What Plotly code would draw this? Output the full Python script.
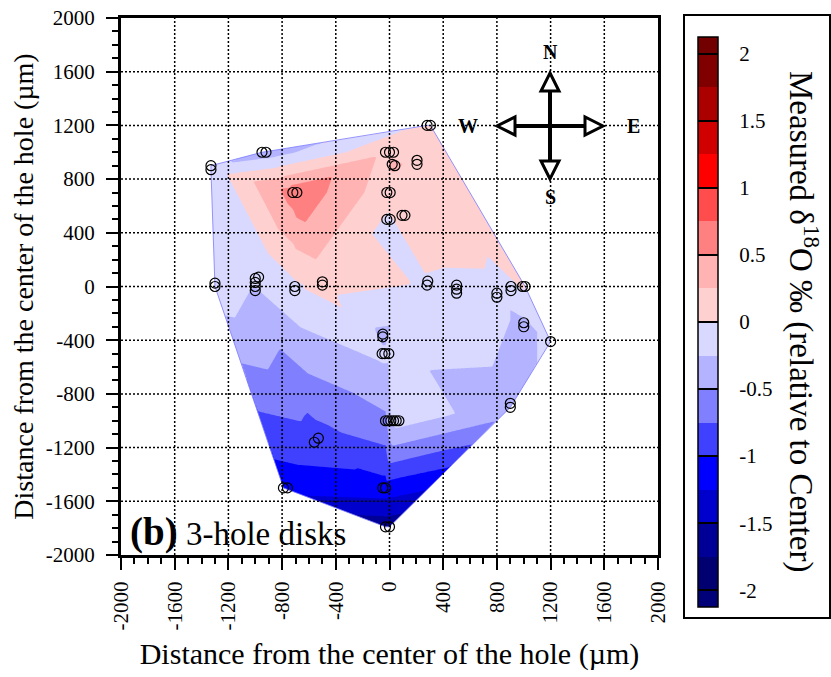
import numpy as np
import plotly.graph_objects as go

# ---- sample spots: position (um) and measured d18O (permil, relative to center)
x_um = [-1330, -1330, -950, -920, -30, 0, 30, 20, 40, 205, 205, 280, 305,
        -720, -690, -20, 5, -20, 5, 93, 115,
        -1300, -1300, -1000, -975, -1000, -1000, -1000, -705, -705, -500, -500,
        285, 280, 500, 500, 500, 800, 800, 905, 905, 990, 1010,
        1000, 1000, 1200, -50, -50, -55, -35, -5,
        -30, -10, 10, 30, 50, 70, 900, 900,
        -560, -530, -790, -760, -50, -30, -30, 0]
y_um = [900, 870, 1000, 1000, 1000, 1000, 1000, 910, 900, 940, 910, 1200, 1200,
        700, 700, 700, 700, 500, 500, 530, 530,
        25, 0, 60, 70, 30, 0, -30, 0, -30, 35, 10,
        40, 10, 10, -20, -50, -50, -80, 0, -30, 0, 0,
        -270, -300, -410, -355, -375, -500, -500, -500,
        -1000, -1000, -1000, -1000, -1000, -1000, -870, -900,
        -1160, -1130, -1500, -1500, -1500, -1500, -1790, -1790]
d18o = [-0.15, -0.15, -0.4, -0.4, 0.2, 0.2, 0.2, 0.3, 0.3, 0.15, 0.15, 0.05, 0.0,
        0.62, 0.7, 0.1, 0.1, -0.03, -0.03, 0.15, 0.15,
        -0.1, -0.1, -0.24, -0.24, -0.24, -0.25, -0.27, -0.05, -0.05, 0.1, 0.1,
        -0.02, -0.02, -0.05, -0.05, -0.05, -0.2, -0.2, -0.05, -0.05, 0.02, 0.02,
        -0.3, -0.3, -0.2, -0.3, -0.3, -0.2, -0.2, -0.2,
        -0.55, -0.4, -0.25, -0.2, -0.15, -0.15, -0.35, -0.35,
        -0.85, -0.85, -1.15, -1.15, -1.1, -1.1, -1.65, -1.65]

axis_ticks = list(range(-2000, 2001, 400))
axis_tick_labels = ["-2000", "-1600", "-1200", "-800", "-400", "0",
                    "400", "800", "1200", "1600", "2000"]
cbar_ticks = [-2, -1.5, -1, -0.5, 0, 0.5, 1, 1.5, 2]
cbar_tick_labels = ["-2", "-1.5", "-1", "-0.5", "0", "0.5", "1", "1.5", "2"]
# colour of each band, from below -2 up to above 2 (0.25 wide bands)
band_colors = ["rgb(0,0,120)", "rgb(0,0,112)", "rgb(0,0,150)", "rgb(0,0,205)",
               "rgb(0,0,255)", "rgb(64,64,255)", "rgb(128,128,255)", "rgb(179,179,255)",
               "rgb(217,217,255)", "rgb(255,208,208)", "rgb(255,179,179)", "rgb(255,128,128)",
               "rgb(255,77,77)", "rgb(255,0,0)", "rgb(208,0,0)", "rgb(170,0,0)",
               "rgb(128,0,0)", "rgb(115,0,0)"]

FONT = "Liberation Serif, Times New Roman, serif"
W, H = 831, 677
ML, MR, MT, MB = 121, 173, 18, 122
PW, PH = W - ML - MR, H - MT - MB


def px(xp):
    return (xp - ML) / PW


def py(yp):
    return (H - MB - yp) / PH


# ---------- gridding of the scattered spots (linear on a Delaunay triangulation)
P = {}
for xv, yv, zv in zip(x_um, y_um, d18o):
    P.setdefault((float(xv), float(yv)), []).append(zv)
pts = list(P.keys())
vals = [float(np.mean(P[k])) for k in pts]
n = len(pts)
S = 1e5
verts = pts + [(-S, -S), (S, -S), (0.0, S)]


def circum(t):
    (ax, ay), (bx, by), (cx, cy) = verts[t[0]], verts[t[1]], verts[t[2]]
    d = 2 * (ax * (by - cy) + bx * (cy - ay) + cx * (ay - by))
    a2, b2, c2 = ax * ax + ay * ay, bx * bx + by * by, cx * cx + cy * cy
    ux = (a2 * (by - cy) + b2 * (cy - ay) + c2 * (ay - by)) / d
    uy = (a2 * (cx - bx) + b2 * (ax - cx) + c2 * (bx - ax)) / d
    return ux, uy, (ax - ux) ** 2 + (ay - uy) ** 2


tris = {(n, n + 1, n + 2): circum((n, n + 1, n + 2))}
for i in range(n):
    qx, qy = verts[i]
    bad = [t for t, (ux, uy, r2) in tris.items()
           if (qx - ux) ** 2 + (qy - uy) ** 2 < r2 * (1 - 1e-12)]
    cnt = {}
    for t in bad:
        for e in ((t[0], t[1]), (t[1], t[2]), (t[2], t[0])):
            k = tuple(sorted(e))
            cnt[k] = cnt.get(k, 0) + 1
        del tris[t]
    for (a, b), c in cnt.items():
        if c == 1:
            t = (a, b, i)
            tris[t] = circum(t)
triangles = [t for t in tris if max(t) < n]

gx = np.arange(min(x_um) - 10, max(x_um) + 11, 10.0)
gy = np.arange(min(y_um) - 10, max(y_um) + 11, 10.0)
GX, GY = np.meshgrid(gx, gy)
Z = np.full(GX.shape, np.nan)
pa = np.array(pts)
va = np.array(vals)
for a, b, c in triangles:
    (x1, y1), (x2, y2), (x3, y3) = pa[a], pa[b], pa[c]
    det = (y2 - y3) * (x1 - x3) + (x3 - x2) * (y1 - y3)
    if abs(det) < 1e-9:
        continue
    l1 = ((y2 - y3) * (GX - x3) + (x3 - x2) * (GY - y3)) / det
    l2 = ((y3 - y1) * (GX - x3) + (x1 - x3) * (GY - y3)) / det
    l3 = 1 - l1 - l2
    m = (l1 >= -1e-9) & (l2 >= -1e-9) & (l3 >= -1e-9) & np.isnan(Z)
    Z[m] = (l1 * va[a] + l2 * va[b] + l3 * va[c])[m]
miss = np.isnan(Z)
if miss.any():
    d2 = (GX[miss][:, None] - pa[:, 0]) ** 2 + (GY[miss][:, None] - pa[:, 1]) ** 2
    Z[miss] = va[np.argmin(d2, axis=1)]

# convex hull of the sample spots (monotone chain)
spts = sorted(pts)


def cross(o, a, b):
    return (a[0] - o[0]) * (b[1] - o[1]) - (a[1] - o[1]) * (b[0] - o[0])


lower, upper = [], []
for p in spts:
    while len(lower) >= 2 and cross(lower[-2], lower[-1], p) <= 0:
        lower.pop()
    lower.append(p)
for p in reversed(spts):
    while len(upper) >= 2 and cross(upper[-2], upper[-1], p) <= 0:
        upper.pop()
    upper.append(p)
hull = lower[:-1] + upper[:-1]  # counter-clockwise

nb = len(band_colors)
colorscale = [[i / (nb - 1), c] for i, c in enumerate(band_colors)]

fig = go.Figure()
fig.add_trace(go.Contour(
    x=gx, y=gy, z=Z,
    autocontour=False,
    contours=dict(start=-2, end=2, size=0.25, coloring="fill", showlines=False),
    colorscale=colorscale,
    line=dict(width=0),
    colorbar=dict(
        x=px(698), xanchor="left", xpad=0,
        y=py(322), yanchor="middle", ypad=0,
        len=570, lenmode="pixels", thickness=20,
        outlinewidth=1.5, outlinecolor="black",
        tickmode="array", tickvals=cbar_ticks,
        ticktext=["\u00a0\u00a0\u00a0" + s for s in cbar_tick_labels],
        ticks="inside", ticklen=20, tickwidth=2, tickcolor="black",
        tickfont=dict(family=FONT, size=21, color="black"),
    ),
    hoverinfo="skip",
))

# white mask outside the convex hull (outer box, then hull clockwise)
R = 3000
hull_cw = list(reversed(hull))
mx = [-R, R, R, -R, -R] + [p[0] for p in hull_cw] + [hull_cw[0][0], -R]
my = [-R, -R, R, R, -R] + [p[1] for p in hull_cw] + [hull_cw[0][1], -R]
fig.add_trace(go.Scatter(x=mx, y=my, mode="lines", fill="toself",
                         fillcolor="white", line=dict(width=0),
                         hoverinfo="skip", showlegend=False))
# thin hull outline
fig.add_trace(go.Scatter(x=[p[0] for p in hull] + [hull[0][0]],
                         y=[p[1] for p in hull] + [hull[0][1]],
                         mode="lines", line=dict(color="rgb(120,120,255)", width=0.8),
                         hoverinfo="skip", showlegend=False))
# sample spots
fig.add_trace(go.Scatter(x=x_um, y=y_um, mode="markers",
                         marker=dict(symbol="circle-open", size=10,
                                     color="black", line=dict(width=1.2)),
                         hoverinfo="skip", showlegend=False))

axis_common = dict(
    range=[-2000, 2000], tickmode="array", tickvals=axis_ticks,
    ticktext=axis_tick_labels, ticks="outside", ticklen=12, tickwidth=2,
    tickcolor="black", showline=True, linewidth=3, linecolor="black",
    mirror=True, showgrid=False, zeroline=False, layer="above traces",
    tickfont=dict(family=FONT, size=21, color="black"),
    minor=dict(dtick=100, ticks="outside", ticklen=6, tickwidth=1.5,
               tickcolor="black", showgrid=False),
)
fig.update_xaxes(**axis_common, tickangle=-90, ticklabelstandoff=3,
                 title=dict(text="Distance from the center of the hole (\u00b5m)",
                            font=dict(family=FONT, size=30, color="black"),
                            standoff=14))
fig.update_yaxes(**axis_common, ticklabelstandoff=7,
                 title=dict(text="Distance from the center of the hole (\u00b5m)",
                            font=dict(family=FONT, size=28, color="black"),
                            standoff=4))

shapes = []
# dotted grid drawn above the filled contours
for v in axis_ticks[1:-1]:
    shapes.append(dict(type="line", xref="x", yref="paper", x0=v, x1=v, y0=0, y1=1,
                       layer="above", line=dict(color="black", width=1.5, dash="2px,2px")))
    shapes.append(dict(type="line", xref="paper", yref="y", x0=0, x1=1, y0=v, y1=v,
                       layer="above", line=dict(color="black", width=1.5, dash="2px,2px")))
# frame around the colour bar
shapes.append(dict(type="rect", xref="paper", yref="paper",
                   x0=px(684), x1=px(830), y0=py(618), y1=py(15),
                   line=dict(color="black", width=2), fillcolor="rgba(0,0,0,0)"))
# compass rose
cx, cy = 550, 126
arm, head, hw = 53, 18, 9
for dx, dy in [(0, -1), (0, 1), (-1, 0), (1, 0)]:
    bx, by = cx + dx * (arm - head), cy + dy * (arm - head)
    shapes.append(dict(type="line", xref="paper", yref="paper",
                       x0=px(cx), y0=py(cy), x1=px(bx), y1=py(by),
                       line=dict(color="black", width=4)))
    tx, ty = cx + dx * arm, cy + dy * arm
    ax_, ay_ = bx - dy * hw, by - dx * hw
    bx_, by_ = bx + dy * hw, by + dx * hw
    path = (f"M {px(tx)} {py(ty)} L {px(ax_)} {py(ay_)} "
            f"L {px(bx_)} {py(by_)} Z")
    shapes.append(dict(type="path", xref="paper", yref="paper", path=path,
                       line=dict(color="black", width=3), fillcolor="white"))

annotations = []
for lab, lx, ly in [("N", 550, 52), ("S", 550, 197), ("W", 468, 126), ("E", 633, 126)]:
    annotations.append(dict(text=f"<b>{lab}</b>", xref="paper", yref="paper",
                            x=px(lx), y=py(ly), xanchor="center", yanchor="middle",
                            showarrow=False,
                            font=dict(family=FONT, size=20, color="black")))
annotations.append(dict(
    text="<span style='font-size:39px'><b>(b)</b></span> 3-hole disks",
    xref="paper", yref="paper", x=px(128), y=py(532), xanchor="left",
    yanchor="middle", showarrow=False,
    font=dict(family=FONT, size=33, color="black")))
annotations.append(dict(
    text="Measured \u03b4<sup>18</sup>O \u2030 (relative to Center)",
    xref="paper", yref="paper", x=px(804), y=py(321), textangle=90,
    xanchor="center", yanchor="middle",
    showarrow=False, font=dict(family=FONT, size=33, color="black")))

fig.update_layout(
    width=W, height=H, margin=dict(l=ML, r=MR, t=MT, b=MB, autoexpand=False),
    paper_bgcolor="white", plot_bgcolor="white", showlegend=False,
    shapes=shapes, annotations=annotations,
    font=dict(family=FONT, color="black"),
)

fig.write_html("out.html", config={"displayModeBar": False},
               post_script="document.body.style.margin='0';"
                           "document.body.style.overflow='hidden';")
